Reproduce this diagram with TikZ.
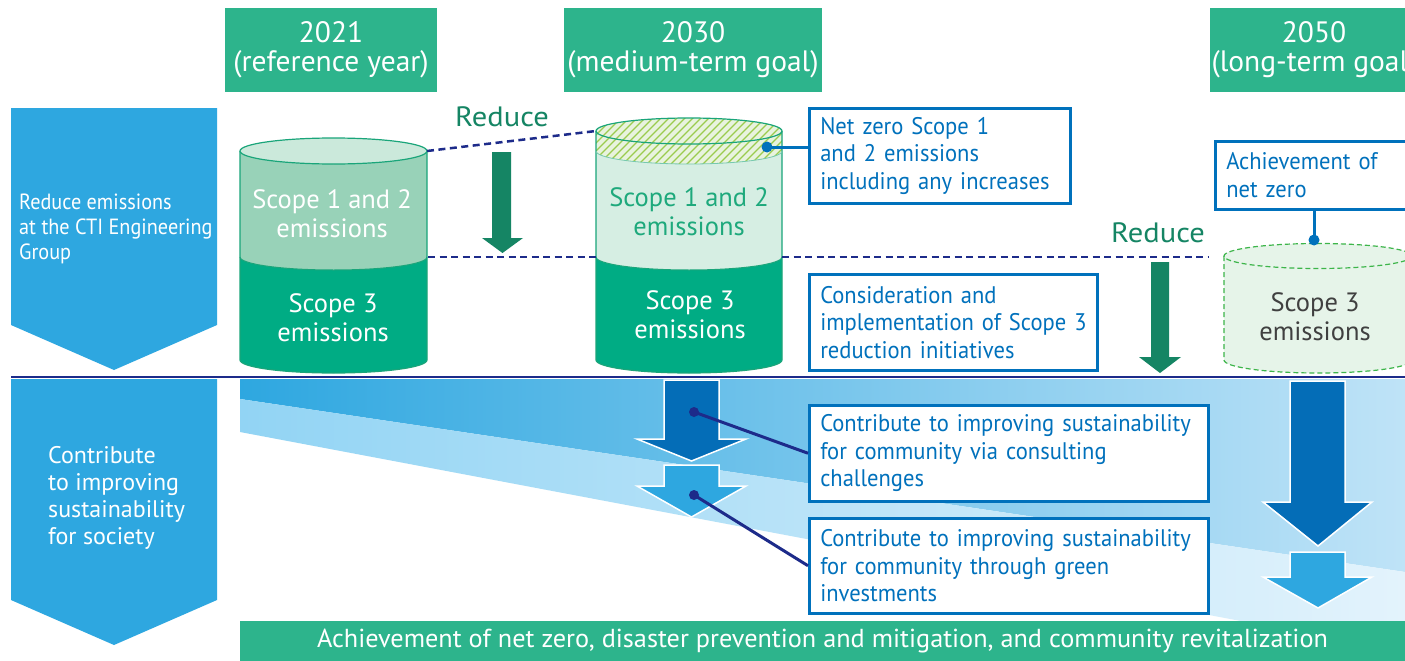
\documentclass[tikz,border=0pt]{standalone}
\usepackage{fontspec}
\setmainfont{PT Sans}
\newfontfamily\nf[FakeStretch=0.94]{PT Sans}
\newfontfamily\lf[FakeStretch=0.92]{PT Sans}
\newfontfamily\wf[FakeStretch=1.09]{PT Sans}
\newfontfamily\barfont[FakeStretch=1.01]{PT Sans}
\definecolor{hgreen}{HTML}{2DB48C}
\definecolor{cdark}{HTML}{00AC84}
\definecolor{clight}{HTML}{98D2B8}
\definecolor{ctop}{HTML}{CBE9DB}
\definecolor{clighttwo}{HTML}{D6EEE3}
\definecolor{cline}{HTML}{1AA57A}
\definecolor{lblue}{HTML}{2EA7E0}
\definecolor{navy}{HTML}{1D2B8A}
\definecolor{bblue}{HTML}{0071BC}
\definecolor{agreen}{HTML}{158564}
\definecolor{dblue}{HTML}{046DB7}
\definecolor{hatchg}{HTML}{9BCB4E}
\definecolor{hatchbg}{HTML}{E8F3DE}
\definecolor{cthreefill}{HTML}{E6F4E9}
\definecolor{cthreeline}{HTML}{3DB54A}
\definecolor{gtext}{HTML}{1EA97C}
\definecolor{dtext}{HTML}{404040}
\definecolor{bandar}{HTML}{BFE3F7}
\definecolor{bandbl}{HTML}{92D4F4}
\definecolor{bandbr}{HTML}{E3F3FC}
\begin{document}
\begin{tikzpicture}[x=1pt,y=1pt,yscale=-1,
  header/.style={fill=hgreen,text=white,inner sep=0,align=center,font=\fontsize{29.5}{29}\selectfont},
  sidelabel/.style={text=white,inner sep=0,align=left,anchor=west},
  infobox/.style={draw=bblue,line width=2.5,fill=white,text=bblue,anchor=north west,align=left,
     inner xsep=11,inner ysep=0,font=\nf\fontsize{24}{27.5}\selectfont},
  cyltext/.style={inner sep=0,align=center,font=\fontsize{26.5}{29}\selectfont},
  reducelbl/.style={text=agreen,inner sep=0,font=\wf\fontsize{28}{30}\selectfont},
  dot/.style={circle,inner sep=0,minimum size=11},
  dashline/.style={navy,line width=2.5,dash pattern=on 7pt off 4.5pt},
  conn/.style={line width=3},
]
\useasboundingbox (0,0) rectangle (1405,661);
\fill[white] (0,0) rectangle (1405,661);

% ---------- headers
\node[header,minimum width=212,minimum height=84] (h1) at (331,50) {2021\\(reference year)};
\node[header,minimum width=258,minimum height=84] (h2) at (693,50) {2030\\(medium-term goal)};
\node[header,minimum width=208,minimum height=84] (h3) at (1314,50) {2050\\(long-term goal)};

% ---------- left arrows
\fill[lblue] (11,108) -- (217,108) -- (217,325) -- (114,370) -- (11,325) -- cycle;
\fill[lblue] (11,379) -- (217,379) -- (217,600) -- (114,645) -- (11,600) -- cycle;
\node[sidelabel,font=\lf\fontsize{22}{25}\selectfont] (l1) at (19,229) {Reduce emissions\\at the CTI Engineering\\Group};
\node[sidelabel,font=\fontsize{24}{27}\selectfont] (l2) at (48,498) {Contribute\\to improving\\sustainability\\for society};

% ---------- bottom bands
\shade[left color=lblue,right color=bandar] (240,379) -- (1405,379) -- (1405,572) -- (240,399) -- cycle;
\shade[left color=bandbl,right color=bandbr] (240,399) -- (1405,572) -- (1405,652) -- (240,432) -- cycle;
\draw[navy,line width=2.5] (11,377) -- (1405,377);

% ---------- cylinder 1 (2021)
\fill[cdark] (240,257) -- (240,360) arc[start angle=180,end angle=0,x radius=93.5,y radius=13]
   -- (427,257) arc[start angle=0,end angle=180,x radius=93.5,y radius=13] -- cycle;
\fill[clight] (240,151) -- (240,257) arc[start angle=180,end angle=0,x radius=93.5,y radius=13] -- (427,151) -- cycle;
\draw[cline,line width=1.2] (240,151) -- (240,360) arc[start angle=180,end angle=0,x radius=93.5,y radius=13] -- (427,151);
\draw[cline,line width=1] (240,257) arc[start angle=180,end angle=0,x radius=93.5,y radius=13];
\draw[cline,line width=1.2,fill=ctop] (333.5,151) ellipse[x radius=93.5,y radius=13];
\coordinate (c1tr) at (427,151);
\coordinate (c1mr) at (428,257);
\node[cyltext,text=white] (c1a) at (332,214) {Scope 1 and 2\\emissions};
\node[cyltext,text=white] (c1b) at (333,318) {Scope 3\\emissions};

% ---------- cylinder 2 (2030)
\fill[cdark] (596,257) -- (596,360) arc[start angle=180,end angle=0,x radius=93,y radius=13]
   -- (782,257) arc[start angle=0,end angle=180,x radius=93,y radius=13] -- cycle;
\fill[clighttwo] (596,131) -- (596,257) arc[start angle=180,end angle=0,x radius=93,y radius=13] -- (782,131) -- cycle;
\begin{scope}
  \clip (596,131) -- (596,151) arc[start angle=180,end angle=0,x radius=93,y radius=13] -- (782,131)
     arc[start angle=0,end angle=-180,x radius=93,y radius=13] -- cycle;
  \fill[hatchbg] (590,110) rectangle (790,170);
  \foreach \i in {0,...,34} {\draw[hatchg,line width=1.1] (540+\i*8,175) -- ++(60,-60);}
\end{scope}
\draw[cline,line width=1.2] (596,131) -- (596,360) arc[start angle=180,end angle=0,x radius=93,y radius=13] -- (782,131);
\draw[cline,line width=1] (596,257) arc[start angle=180,end angle=0,x radius=93,y radius=13];
\draw[cline!60,line width=0.8] (596,151) arc[start angle=180,end angle=0,x radius=93,y radius=13];
\draw[cline,line width=1.2] (689,131) ellipse[x radius=93,y radius=13];
\coordinate (c2tl) at (596,131);
\coordinate (c2ml) at (596,257);
\coordinate (c2mr) at (782,257);
\node[cyltext,text=gtext] (c2a) at (689,212) {Scope 1 and 2\\emissions};
\node[cyltext,text=white] (c2b) at (690,315) {Scope 3\\emissions};

% ---------- cylinder 3 (2050)
\draw[cthreeline,line width=1.2,dash pattern=on 5pt off 3pt,fill=cthreefill]
  (1224,256) -- (1224,360) arc[start angle=180,end angle=0,x radius=94,y radius=13] -- (1412,256) -- cycle;
\draw[cthreeline,line width=1.2,dash pattern=on 5pt off 3pt,fill=cthreefill] (1318,256) ellipse[x radius=94,y radius=12.5];
\node[cyltext,text=dtext] (c3) at (1315,317) {Scope 3\\emissions};

% ---------- dashed reference lines
\coordinate (dashend) at (1208,257);
\draw[dashline] (c1tr) -- (c2tl);
\draw[dashline] (c1mr) -- (c2ml);
\draw[dashline] (c2mr) -- (dashend);

% ---------- reduce arrows
\node[reducelbl] (r1) at (502,117) {Reduce};
\node[reducelbl] (r2) at (1158,233) {Reduce};
\fill[agreen] (492,152) -- (511,152) -- (511,238) -- (523,238) -- (502.5,253) -- (482,238) -- (492,238) -- cycle;
\fill[agreen] (1151,262) -- (1169,262) -- (1169,357) -- (1181,357) -- (1160,373) -- (1139,357) -- (1151,357) -- cycle;

% ---------- info boxes (upper)
\node[infobox,minimum width=261,minimum height=95,text width=239] (nz) at (808,107)
  {Net zero Scope 1\\and 2 emissions\\including any increases};
\node[infobox,minimum width=288,minimum height=96,text width=266] (cs) at (808,273)
  {Consideration and\\\mbox{implementation of Scope 3}\\reduction initiatives};
\node[infobox,minimum width=215,minimum height=68,text width=193] (az) at (1214,140)
  {Achievement of\\net zero};
\node[dot,fill=bblue] (d1) at (767,147) {};
\node[dot,fill=bblue] (d3) at (1314,240) {};
\draw[bblue,conn] (d1.center) -- (d1.center -| nz.west);
\draw[bblue,conn] (d3.center) -- (d3.center |- az.south);

% ---------- 2030 blue arrows
\fill[dblue,draw=white,line width=1.5] (664,380) -- (719,380) -- (719,439) -- (746,439) -- (691.5,461) -- (637,439) -- (664,439) -- cycle;
\fill[lblue,draw=white,line width=1.5] (664,465) -- (719,465) -- (719,486) -- (746,486) -- (691.5,517) -- (637,486) -- (664,486) -- cycle;
% ---------- 2050 blue arrows
\fill[dblue,draw=white,line width=1.5] (1290,381) -- (1345,381) -- (1345,502) -- (1372,502) -- (1318,546) -- (1263,502) -- (1290,502) -- cycle;
\fill[lblue,draw=white,line width=1.5] (1290,552) -- (1345,552) -- (1345,577) -- (1372,577) -- (1318,608) -- (1263,577) -- (1290,577) -- cycle;

% ---------- info boxes (lower)
\node[infobox,minimum width=399,minimum height=96,text width=377] (cb1) at (808,404)
  {Contribute to improving sustainability\\for community via consulting\\challenges};
\node[infobox,minimum width=399,minimum height=95,text width=377] (cb2) at (808,517)
  {Contribute to improving sustainability\\for community through green\\investments};
\node[dot,fill=navy,minimum size=10] (d2a) at (694,412) {};
\node[dot,fill=navy,minimum size=10] (d2b) at (694,495) {};
\draw[navy,conn] (d2a.center) -- (cb1.west);
\draw[navy,conn] (d2b.center) -- (cb2.west);

% ---------- bottom bar
\node[fill=hgreen,text=white,inner sep=0,minimum width=1165,minimum height=41,
  font=\barfont\fontsize{26}{27}\selectfont] (bar) at (822.5,641) {Achievement of net zero, disaster prevention and mitigation, and community revitalization};
\end{tikzpicture}
\end{document}
